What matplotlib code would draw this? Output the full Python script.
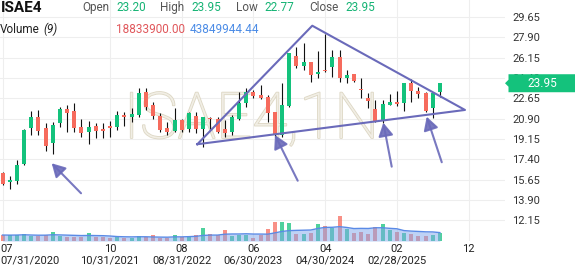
import numpy as np
import pandas as pd
import matplotlib
matplotlib.use('Agg')
import matplotlib.pyplot as plt
from matplotlib.patches import Polygon, FancyArrowPatch
import matplotlib.transforms as mtrans
import matplotlib.patheffects as pe

plt.rcParams['font.family'] = ['Roboto', 'DejaVu Sans']

# ---------------- data (monthly candles, 07/2020 .. 08/2025) ----------------
opens = [16.22, 15.45, 15.56, 17.00, 20.12, 21.02, 20.07, 18.78, 20.50, 21.73,
         21.53, 20.16, 19.78, 20.27, 20.01, 20.27, 20.16, 21.22, 21.07, 21.22,
         23.20, 22.08, 21.16, 20.10, 19.86, 20.79, 20.01, 21.16, 20.01, 20.98,
         20.87, 19.99, 19.78, 20.85, 22.27, 23.22, 22.94, 22.79, 21.47, 19.49,
         21.99, 26.29, 25.46, 25.80, 24.74, 25.09, 25.37, 26.23, 24.43, 24.74,
         23.45, 22.65, 21.71, 20.79, 22.08, 22.36, 22.22, 23.94, 23.28, 23.08,
         21.79, 23.20]
highs = [16.34, 16.00, 17.34, 20.04, 21.56, 21.65, 20.50, 20.59, 21.88, 22.05,
         22.22, 20.85, 20.67, 20.55, 20.53, 20.67, 21.59, 21.45, 21.79, 23.51,
         23.54, 22.36, 21.41, 20.64, 21.85, 20.85, 21.50, 21.50, 21.07, 21.07,
         21.02, 20.79, 21.22, 23.22, 23.51, 23.37, 23.80, 22.94, 21.47, 23.99,
         26.53, 27.09, 27.44, 25.80, 26.75, 28.19, 26.81, 26.81, 25.09, 24.74,
         24.38, 23.13, 22.51, 22.51, 23.02, 23.28, 23.94, 24.29, 23.60, 23.22,
         23.22, 23.95]
lows = [15.17, 14.82, 15.25, 16.91, 19.47, 19.49, 18.09, 17.86, 20.21, 19.75,
        19.75, 19.35, 18.69, 19.26, 19.24, 19.30, 19.93, 20.30, 20.64, 21.07,
        21.65, 20.87, 19.78, 19.49, 19.78, 19.75, 19.73, 19.69, 18.49, 19.99,
        19.64, 19.30, 19.49, 20.79, 21.93, 22.65, 22.59, 20.64, 19.35, 19.35,
        21.88, 25.24, 25.09, 24.08, 24.37, 24.94, 24.51, 24.03, 23.94, 24.03,
        22.65, 21.84, 20.64, 20.55, 22.08, 21.99, 21.59, 22.36, 22.65, 21.45,
        20.93, 22.77]
closes = [15.28, 15.62, 16.91, 19.93, 21.02, 19.81, 18.55, 20.36, 21.73, 21.41,
          20.12, 19.69, 20.16, 19.86, 19.86, 20.12, 21.22, 21.02, 21.30, 23.08,
          21.93, 21.13, 19.93, 19.75, 20.79, 19.93, 21.36, 20.04, 21.02, 20.85,
          19.78, 19.69, 21.07, 22.22, 23.22, 22.85, 22.65, 21.36, 19.49, 22.08,
          26.53, 25.43, 25.80, 24.66, 24.94, 25.00, 26.23, 24.37, 24.66, 24.14,
          23.39, 22.45, 20.70, 22.16, 22.36, 22.16, 23.94, 23.31, 23.05, 21.56,
          23.08, 23.95]
volumes_m = [14.0, 13.6, 14.3, 16.5, 11.8, 11.5, 14.1, 21.2, 11.6, 9.4,
             9.2, 9.6, 18.8, 9.4, 9.1, 7.1, 9.5, 7.0, 7.2, 11.8,
             9.4, 14.1, 7.1, 7.3, 14.0, 9.4, 11.8, 14.2, 30.6, 16.5,
             14.1, 25.9, 11.8, 14.0, 13.8, 5.9, 14.1, 28.2, 44.7, 44.5,
             42.3, 17.6, 17.4, 17.8, 38.8, 36.4, 30.6, 57.6, 28.2, 18.8,
             21.2, 15.3, 32.9, 38.8, 24.7, 21.2, 18.9, 17.6, 11.8, 12.9,
             13.0, 18.83]

price_ticks = [12.15, 13.90, 15.65, 17.40, 19.15, 20.90, 22.65, 24.40, 26.15, 27.90, 29.65]
tick_idx = [0, 15, 25, 35, 45, 55, 65]
tick_month = ['07', '10', '08', '06', '04', '02', '12']
tick_date = ['07/31/2020', '10/31/2021', '08/31/2022', '06/30/2023', '04/30/2024', '02/28/2025', '']

symbol = 'ISAE4'
watermark = 'ISAE4,1N'
hdr_open, hdr_high, hdr_low, hdr_close = '23.20', '23.95', '22.77', '23.95'
hdr_vol, hdr_vol_ma = '18833900.00', '43849944.44'

# annotation drawings (x = month index, y = price)
triangle = [(27.17, 18.70), (43.2, 28.90), (64.5, 21.65), (27.17, 18.70)]
arrows = [((10.95, 14.48), (6.86, 17.06)),
          ((41.17, 15.56), (38.0, 19.49)),
          ((54.28, 16.77), (53.11, 20.55)),
          ((61.26, 17.15), (59.16, 21.07))]

# ---------------- style ----------------
GREEN = '#14c27c'
RED = '#f66b5d'
DRAW = '#6a6aba'

W, H = 575, 267
fig = plt.figure(figsize=(W / 100, H / 100), dpi=100)
ax = fig.add_axes([0, (H - 241) / H, 505 / W, 241 / H])
ax2 = ax.twinx()
ax.set_xlim(-0.35, 70.08)
ax.set_ylim(10.372, 31.113)
for a in (ax, ax2):
    for s in a.spines.values():
        s.set_visible(False)
ax.set_yticks(price_ticks)
ax.set_yticklabels([f'{t:.2f}' for t in price_ticks])
ax.yaxis.tick_right()
ax.yaxis.set_label_position('right')
ax.tick_params(axis='y', length=0, pad=5, labelsize=8, labelcolor='#333333',
               labelright=True, labelleft=False)
ax.set_xticks(tick_idx)
ax.tick_params(axis='x', length=0, labelbottom=False)
ax.grid(True, color='#eeeeee', lw=0.8)
ax.set_axisbelow(True)

# watermark
ax.text(0.244, (241 - 138) / 241, watermark, transform=ax.transAxes,
        fontsize=46, fontweight='light', color='#f1eee5', ha='left', va='baseline',
        zorder=1, path_effects=[pe.withStroke(linewidth=1.2, foreground='#ddd7c4')])

idx = np.arange(len(opens))
o = np.array(opens); c = np.array(closes)
hi = np.array(highs); lo = np.array(lows)
up = c >= o
colors = np.where(up, GREEN, RED)
ax.vlines(idx, lo, hi, color='#111111', lw=0.8, zorder=2)
ax.bar(idx, np.maximum(np.abs(c - o), 0.06), bottom=np.minimum(o, c), width=0.56,
       color=colors, zorder=3, linewidth=0)

# volume pane
ax2.set_ylim(0, 241 * 2.35)
ax2.set_yticks([])
ax2.tick_params(axis='both', length=0, labelright=False, labelleft=False, labelbottom=False)
ax2.patch.set_visible(False)
vol = np.array(volumes_m)
ax2.bar(idx, vol, width=0.56, color=colors, alpha=0.75, linewidth=0, zorder=2)
ma = pd.Series(vol).rolling(9, min_periods=1).mean()
ax2.fill_between(idx, 0, ma, color='#7ea6ec', alpha=0.5, linewidth=0, zorder=3)
ax2.plot(idx, ma, color='#5a8ae6', lw=1.0, zorder=4)

# drawings
tx, ty = zip(*triangle)
for tail, tip in arrows:
    arr = FancyArrowPatch(tail, tip, transform=ax.transData,
                          arrowstyle='-|>,head_length=8,head_width=4.5',
                          mutation_scale=1, color=DRAW, lw=1.5, alpha=0.9,
                          shrinkA=0, shrinkB=0, zorder=7)
    ax2.add_artist(arr)
ax2.plot(tx, ty, transform=ax.transData, color=DRAW, lw=1.5, zorder=6)

# x labels
xtr = mtrans.blended_transform_factory(ax.transData, fig.transFigure)
for k, (i, m, d) in enumerate(zip(tick_idx, tick_month, tick_date)):
    if k == 0:
        xi, ha = -0.35, 'left'
    else:
        xi, ha = i, 'center'
    fig.text(xi, 1 - 251.5 / H, m, transform=xtr, ha=ha, va='baseline', fontsize=8, color='#222222')
    if d:
        fig.text(xi, 1 - 263.5 / H, d, transform=xtr, ha=ha, va='baseline', fontsize=8, color='#222222')

# last price tag
fig.canvas.draw()
yc = ax.transData.transform((0, closes[-1]))[1]
pts = [(505, yc), (508.5, yc + 3.5), (508.5, yc + 9), (575, yc + 9),
       (575, yc - 9), (508.5, yc - 9), (508.5, yc - 3.5)]
poly = Polygon([(x / W, y / H) for x, y in pts], closed=True, transform=fig.transFigure,
               facecolor=GREEN, edgecolor='none', zorder=10)
fig.add_artist(poly)
fig.text(542 / W, yc / H, f'{closes[-1]:.2f}', ha='center', va='center', color='white',
         fontsize=8.5, zorder=11)

# header
def ht(x, yb, s, **kw):
    fig.text(x / W, 1 - yb / H, s, va='baseline', ha='left', **kw)

ht(1, 12.3, symbol, fontsize=11, fontweight='bold', color='#111111')
ht(82, 11.3, 'Open', fontsize=8.5, color='#555555')
ht(116, 11.3, hdr_open, fontsize=8.5, color='#15b374')
ht(160, 11.3, 'High', fontsize=8.5, color='#555555')
ht(191, 11.3, hdr_high, fontsize=8.5, color='#15b374')
ht(236, 11.3, 'Low', fontsize=8.5, color='#555555')
ht(264, 11.3, hdr_low, fontsize=8.5, color='#15b374')
ht(309, 11.3, 'Close', fontsize=8.5, color='#555555')
ht(345, 11.3, hdr_close, fontsize=8.5, color='#15b374')
ht(0, 33, 'Volume', fontsize=8.5, color='#222222')
ht(43, 33, '(9)', fontsize=8.5, color='#222222', fontstyle='italic')
ht(116, 33, hdr_vol, fontsize=8.5, color='#e0575b')
ht(190, 33, hdr_vol_ma, fontsize=8.5, color='#4c8ce6')

fig.savefig('out.png', dpi=100)
